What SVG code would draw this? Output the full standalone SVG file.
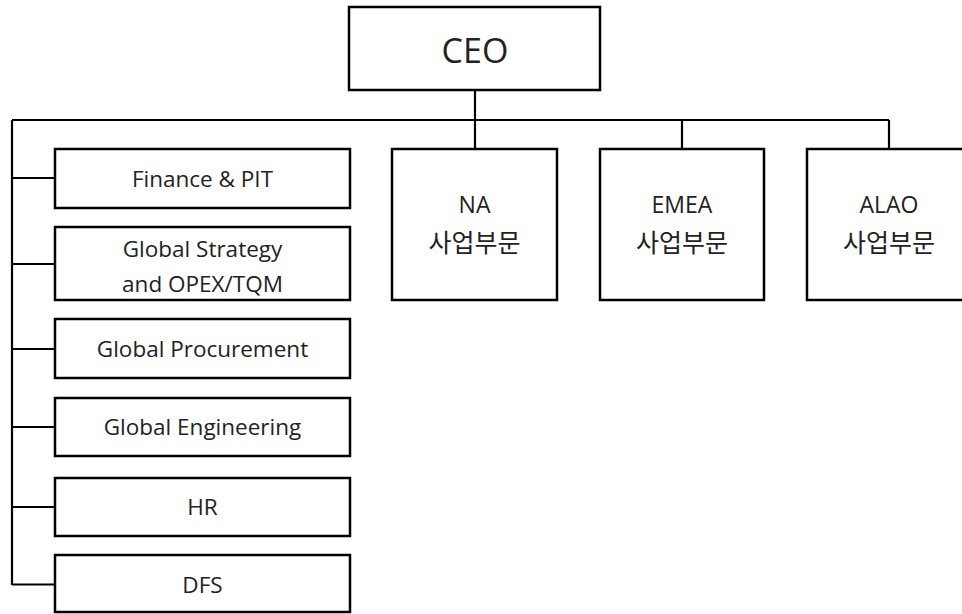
<svg xmlns="http://www.w3.org/2000/svg" width="962" height="614" viewBox="0 0 962 614">
<style>
.box{fill:#fff;stroke:#000;stroke-width:2.5}
.ln{fill:none;stroke:#000;stroke-width:2.2}
text{font-family:"Open Sans","Noto Sans CJK KR",sans-serif;fill:#222;text-anchor:middle}
.s{font-size:22.5px}
.m{font-size:23px}
.k{font-size:25px}
.l{font-size:34px}
</style>
<rect width="962" height="614" fill="#fff"/>
<g id="connectors">
<path class="ln" d="M475 90V149M12 120H889M682 120V149M889 120V149M12 120V585M12 178H55M12 264H55M12 349H55M12 427H55M12 507H55M12 584.5H55"/>
</g>
<g id="ceo"><rect class="box" x="349" y="7" width="251" height="83"/><text class="l" x="475" y="63">CEO</text></g>
<g id="na"><rect class="box" x="392" y="149" width="165" height="151"/><text class="m" x="474.5" y="213">NA</text><text class="k" x="474.5" y="252">사업부문</text></g>
<g id="emea"><rect class="box" x="600" y="149" width="164" height="151"/><text class="m" x="682" y="213">EMEA</text><text class="k" x="682" y="252">사업부문</text></g>
<g id="alao"><rect class="box" x="807" y="149" width="164" height="151"/><text class="m" x="889" y="213">ALAO</text><text class="k" x="889" y="252">사업부문</text></g>
<g id="finance"><rect class="box" x="55" y="149" width="295" height="59"/><text class="s" x="202.5" y="187">Finance &amp; PIT</text></g>
<g id="strategy"><rect class="box" x="55" y="227" width="295" height="73"/><text class="s" x="202.5" y="257">Global Strategy</text><text class="s" x="202.5" y="292">and OPEX/TQM</text></g>
<g id="procurement"><rect class="box" x="55" y="319" width="295" height="59"/><text class="s" x="202.5" y="357">Global Procurement</text></g>
<g id="engineering"><rect class="box" x="55" y="398" width="295" height="58"/><text class="s" x="202.5" y="435">Global Engineering</text></g>
<g id="hr"><rect class="box" x="55" y="478" width="295" height="58"/><text class="s" x="202.5" y="515">HR</text></g>
<g id="dfs"><rect class="box" x="55" y="555" width="295" height="57"/><text class="s" x="202.5" y="593">DFS</text></g>
</svg>
